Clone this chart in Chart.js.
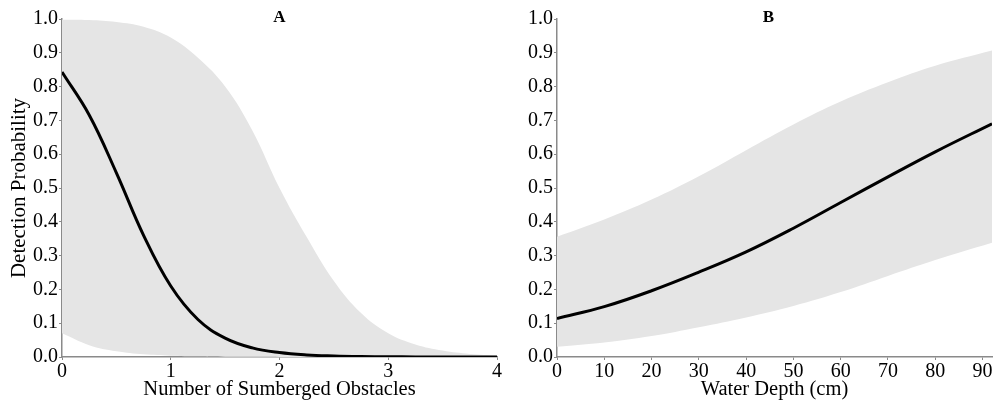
<!DOCTYPE html>
<html>
<head>
<meta charset="utf-8">
<script src="https://cdn.jsdelivr.net/npm/chart.js@4.4.1/dist/chart.umd.min.js"></script>
<style>
  html, body { margin: 0; padding: 0; background: #fff; overflow: hidden; }
  #wrap { position: relative; width: 993px; height: 403px; }
  .pane { position: absolute; top: 0; }
</style>
</head>
<body>
<div id="wrap">
  <div class="pane" style="left:0px"><canvas id="chartA" width="510" height="403"></canvas></div>
  <div class="pane" style="left:500px"><canvas id="chartB" width="510" height="403"></canvas></div>
</div>
<script>
// ---- Panel A: Number of submerged obstacles ----
const obstaclesX = [0, 0.25, 0.5, 0.75, 1, 1.25, 1.5, 1.75, 2, 2.25, 2.5, 2.75, 3, 3.25, 3.5, 3.75, 4];
const obstaclesMean = [0.843, 0.716, 0.545, 0.360, 0.210, 0.111, 0.056, 0.027, 0.013, 0.006, 0.003, 0.0014, 0.0007, 0.0003, 0.0002, 0.0001, 0.0];
const obstaclesUpper = [0.998, 0.997, 0.991, 0.977, 0.945, 0.885, 0.800, 0.670, 0.500, 0.355, 0.225, 0.130, 0.070, 0.037, 0.019, 0.009, 0.004];
const obstaclesLower = [0.07, 0.035, 0.017, 0.008, 0.004, 0.002, 0.001, 0.0005, 0.0003, 0.0002, 0.0001, 0, 0, 0, 0, 0, 0];
const obstaclesTicks = [0, 1, 2, 3, 4];

// ---- Panel B: Water depth (cm) ----
const depthX = [0, 10, 20, 30, 40, 50, 60, 70, 80, 92];
const depthMean = [0.114, 0.149, 0.196, 0.251, 0.311, 0.381, 0.457, 0.533, 0.607, 0.690];
const depthUpper = [0.356, 0.407, 0.466, 0.535, 0.612, 0.688, 0.756, 0.813, 0.862, 0.907];
const depthLower = [0.030, 0.043, 0.062, 0.088, 0.117, 0.151, 0.192, 0.240, 0.287, 0.338];
const depthTicks = [0, 10, 20, 30, 40, 50, 60, 70, 80, 90];

const probTicks = [0, 0.1, 0.2, 0.3, 0.4, 0.5, 0.6, 0.7, 0.8, 0.9, 1.0];

const SERIF = "'Liberation Serif', 'DejaVu Serif', serif";
const AXIS_GREY = '#8a8a8a';
const BAND = '#e5e5e5';

function pts(xs, ys) { return xs.map((x, i) => ({ x: x, y: ys[i] })); }

const panelTitle = {
  id: 'panelTitle',
  afterDraw(chart, args, opts) {
    const ctx = chart.ctx, a = chart.chartArea;
    ctx.save();
    ctx.font = 'bold 17px ' + SERIF;
    ctx.fillStyle = '#000';
    ctx.textAlign = 'center';
    ctx.textBaseline = 'middle';
    ctx.fillText(opts.text, (a.left + a.right) / 2 + (opts.dx || 0), opts.y);
    ctx.restore();
  }
};

function makeChart(id, cfg) {
  return new Chart(document.getElementById(id), {
    type: 'line',
    data: {
      datasets: [
        { data: pts(cfg.xs, cfg.mean), borderColor: '#000', borderWidth: 3, pointRadius: 0,
          fill: false, tension: 0.4, order: 0 },
        { data: pts(cfg.xs, cfg.upper), borderWidth: 0, borderColor: 'rgba(0,0,0,0)', backgroundColor: BAND,
          pointRadius: 0, fill: '+1', tension: 0.4, order: 1 },
        { data: pts(cfg.xs, cfg.lower), borderWidth: 0, borderColor: 'rgba(0,0,0,0)', backgroundColor: BAND,
          pointRadius: 0, fill: false, tension: 0.4, order: 2 }
      ]
    },
    plugins: [panelTitle],
    options: {
      responsive: false,
      animation: false,
      devicePixelRatio: 1,
      layout: { padding: { left: 0, right: cfg.padRight, top: 19, bottom: 0 } },
      plugins: {
        legend: { display: false },
        tooltip: { enabled: false },
        panelTitle: { text: cfg.title, y: 18, dx: cfg.titleDx }
      },
      scales: {
        x: {
          type: 'linear', min: cfg.xmin, max: cfg.xmax,
          afterBuildTicks: s => { s.ticks = cfg.xticks.map(v => ({ value: v })); },
          afterFit: s => { s.height = 46; },
          grid: { drawOnChartArea: false, drawTicks: true, tickLength: 3, color: AXIS_GREY },
          border: { display: true, color: AXIS_GREY, width: 1.5 },
          ticks: { color: '#000', font: { family: SERIF, size: 20 }, padding: 0, maxRotation: 0,
                   callback: v => String(v) },
          title: { display: true, text: cfg.xtitle, color: '#000',
                   font: { family: SERIF, size: 20.5 }, padding: { top: 0, bottom: 1 } }
        },
        y: {
          type: 'linear', min: 0, max: 1,
          afterBuildTicks: s => { s.ticks = probTicks.map(v => ({ value: v })); },
          afterFit: s => { s.width = cfg.yWidth; },
          grid: { drawOnChartArea: false, drawTicks: true, tickLength: 3, color: AXIS_GREY },
          border: { display: true, color: AXIS_GREY, width: 1.5 },
          ticks: { color: '#000', font: { family: SERIF, size: 20 }, padding: 1,
                   callback: v => Number(v).toFixed(1) },
          title: { display: !!cfg.ytitle, text: cfg.ytitle || '', color: '#000',
                   font: { family: SERIF, size: 21 }, padding: { top: 7, bottom: 0 } }
        }
      }
    }
  });
}

makeChart('chartA', {
  xs: obstaclesX, mean: obstaclesMean, upper: obstaclesUpper, lower: obstaclesLower,
  xticks: obstaclesTicks, xmin: 0, xmax: 4, xtitle: 'Number of Sumberged Obstacles',
  ytitle: 'Detection Probability', yWidth: 62, padRight: 13, title: 'A', titleDx: 0
});
makeChart('chartB', {
  xs: depthX, mean: depthMean, upper: depthUpper, lower: depthLower,
  xticks: depthTicks, xmin: 0, xmax: 92, xtitle: 'Water Depth (cm)',
  ytitle: null, yWidth: 57, padRight: 18, title: 'B', titleDx: -6
});
</script>
</body>
</html>
